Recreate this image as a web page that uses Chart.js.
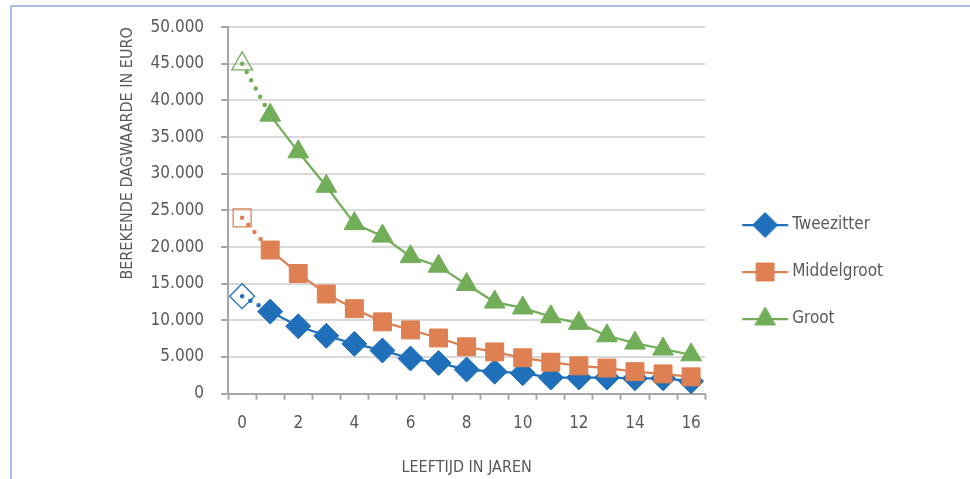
<!DOCTYPE html>
<html>
<head>
<meta charset="utf-8">
<script src="https://cdn.jsdelivr.net/npm/chart.js@4.4.1/dist/chart.umd.min.js"></script>
<style>
html,body{margin:0;padding:0;background:#fff;}
#wrap{position:relative;width:970px;height:479px;overflow:hidden;}
#frame{position:absolute;left:10px;top:5px;width:980px;height:490px;border-top:2px solid #a9bde6;border-left:2px solid #a9bde6;}
#c{position:absolute;left:0;top:0;}
</style>
</head>
<body>
<div id="wrap"><div id="frame"></div><canvas id="c" width="970" height="479"></canvas></div>
<script>
// ---- data ----
const years = ['0','1','2','3','4','5','6','7','8','9','10','11','12','13','14','15','16'];
const seriesNames = ['Tweezitter', 'Middelgroot', 'Groot'];
const tweezitter  = [13300, 11200, 9200, 7900, 6800, 5900, 4800, 4200, 3300, 3000, 2800, 2200, 2200, 2200, 2100, 2100, 1700];
const middelgroot = [24000, 19600, 16400, 13600, 11600, 9800, 8700, 7600, 6400, 5700, 4900, 4300, 3800, 3500, 3000, 2700, 2300];
const groot       = [45000, 38000, 33000, 28300, 23200, 21500, 18700, 17400, 14900, 12500, 11700, 10500, 9600, 7900, 6900, 6100, 5300];
const yMin = 0, yMax = 50000, yStep = 5000;
const xTitle = 'LEEFTIJD IN JAREN';
const yTitle = 'BEREKENDE DAGWAARDE IN EURO';

// ---- styles ----
const FONT = "'Liberation Sans Narrow', 'DejaVu Sans Condensed', 'Liberation Sans', sans-serif";
const TEXT = '#595959';
const AXIS = '#a6a6a6';
const GRID = '#d9d9d9';
const colors = ['#1f6fba', '#df8052', '#72ad58'];
const styles = ['rectRot', 'rect', 'triangle'];
const radii = [12.5, 12.7, 12];
const orders = [3, 2, 1];

function fmt(v) { return String(v).replace(/\B(?=(\d{3})+(?!\d))/g, '.'); }

function legendImage(i) {
  const cv = document.createElement('canvas');
  cv.width = 64; cv.height = 28;
  const g = cv.getContext('2d');
  const cx = 37.75;
  g.strokeStyle = colors[i]; g.lineWidth = 2.25;
  g.beginPath(); g.moveTo(cx - 23, 14); g.lineTo(cx + 23, 14); g.stroke();
  g.fillStyle = colors[i]; g.strokeStyle = colors[i]; g.lineWidth = 1;
  Chart.helpers.drawPoint(g, {pointStyle: styles[i], radius: radii[i], rotation: 0, borderWidth: 1}, cx, 14);
  return cv;
}

const seriesData = [tweezitter, middelgroot, groot];
const datasets = seriesData.map((vals, i) => ({
  label: seriesNames[i],
  data: vals,
  order: orders[i],
  borderColor: colors[i],
  backgroundColor: colors[i],
  borderWidth: 2.25,
  pointStyle: styles[i],
  pointRadius: radii[i],
  pointBorderColor: colors[i],
  pointBackgroundColor: vals.map((v, k) => k === 0 ? 'rgba(0,0,0,0)' : colors[i]),
  pointBorderWidth: vals.map((v, k) => k === 0 ? 1.25 : 1),
  tension: 0,
  clip: false,
  segment: {
    borderDash: ctx => ctx.p0DataIndex === 0 ? [0, 9.4] : undefined,
    borderWidth: ctx => ctx.p0DataIndex === 0 ? 4.5 : undefined,
    borderCapStyle: ctx => ctx.p0DataIndex === 0 ? 'round' : undefined
  }
}));

const legendImgs = [0, 1, 2].map(legendImage);

new Chart(document.getElementById('c'), {
  type: 'line',
  data: { labels: years, datasets: datasets },
  options: {
    responsive: false,
    animation: false,
    events: [],
    layout: { padding: { left: 100, right: 77, top: 20, bottom: 1.4 } },
    plugins: {
      tooltip: { enabled: false },
      legend: {
        position: 'right',
        title: { display: true, text: '', font: { size: 10 }, padding: { top: 34.4, bottom: 0 } },
        labels: {
          usePointStyle: true,
          pointStyleWidth: 48.5,
          padding: 30,
          color: TEXT,
          font: { family: FONT, size: 17 },
          generateLabels: chart => {
            const items = Chart.defaults.plugins.legend.labels.generateLabels(chart);
            items.sort((a, b) => a.datasetIndex - b.datasetIndex);
            items.forEach(it => { it.pointStyle = legendImgs[it.datasetIndex]; });
            return items;
          }
        }
      }
    },
    scales: {
      x: {
        type: 'category',
        offset: true,
        border: { display: true, color: AXIS, width: 2 },
        grid: { display: true, offset: true, drawOnChartArea: false, drawTicks: true, tickLength: 6, tickColor: AXIS, tickWidth: 2, color: AXIS },
        ticks: {
          autoSkip: false, maxRotation: 0, padding: 13.3, color: TEXT,
          font: { family: FONT, size: 17 },
          callback: function (val, idx) { return idx % 2 === 0 ? this.getLabelForValue(val) : ''; }
        },
        title: { display: true, text: xTitle, color: TEXT, font: { family: FONT, size: 16 }, padding: { top: 11.7, bottom: 0 } }
      },
      y: {
        min: yMin, max: yMax,
        border: { display: true, color: AXIS, width: 2 },
        grid: { color: GRID, lineWidth: 2, tickLength: 7, tickColor: AXIS, tickWidth: 2 },
        ticks: { stepSize: yStep, padding: 17, color: TEXT, font: { family: FONT, size: 17 }, callback: v => fmt(v) },
        title: { display: true, text: yTitle, align: 'end', color: TEXT, font: { family: FONT, size: 16 }, padding: { top: 18.4, bottom: -4 } }
      }
    }
  }
});
</script>
</body>
</html>
